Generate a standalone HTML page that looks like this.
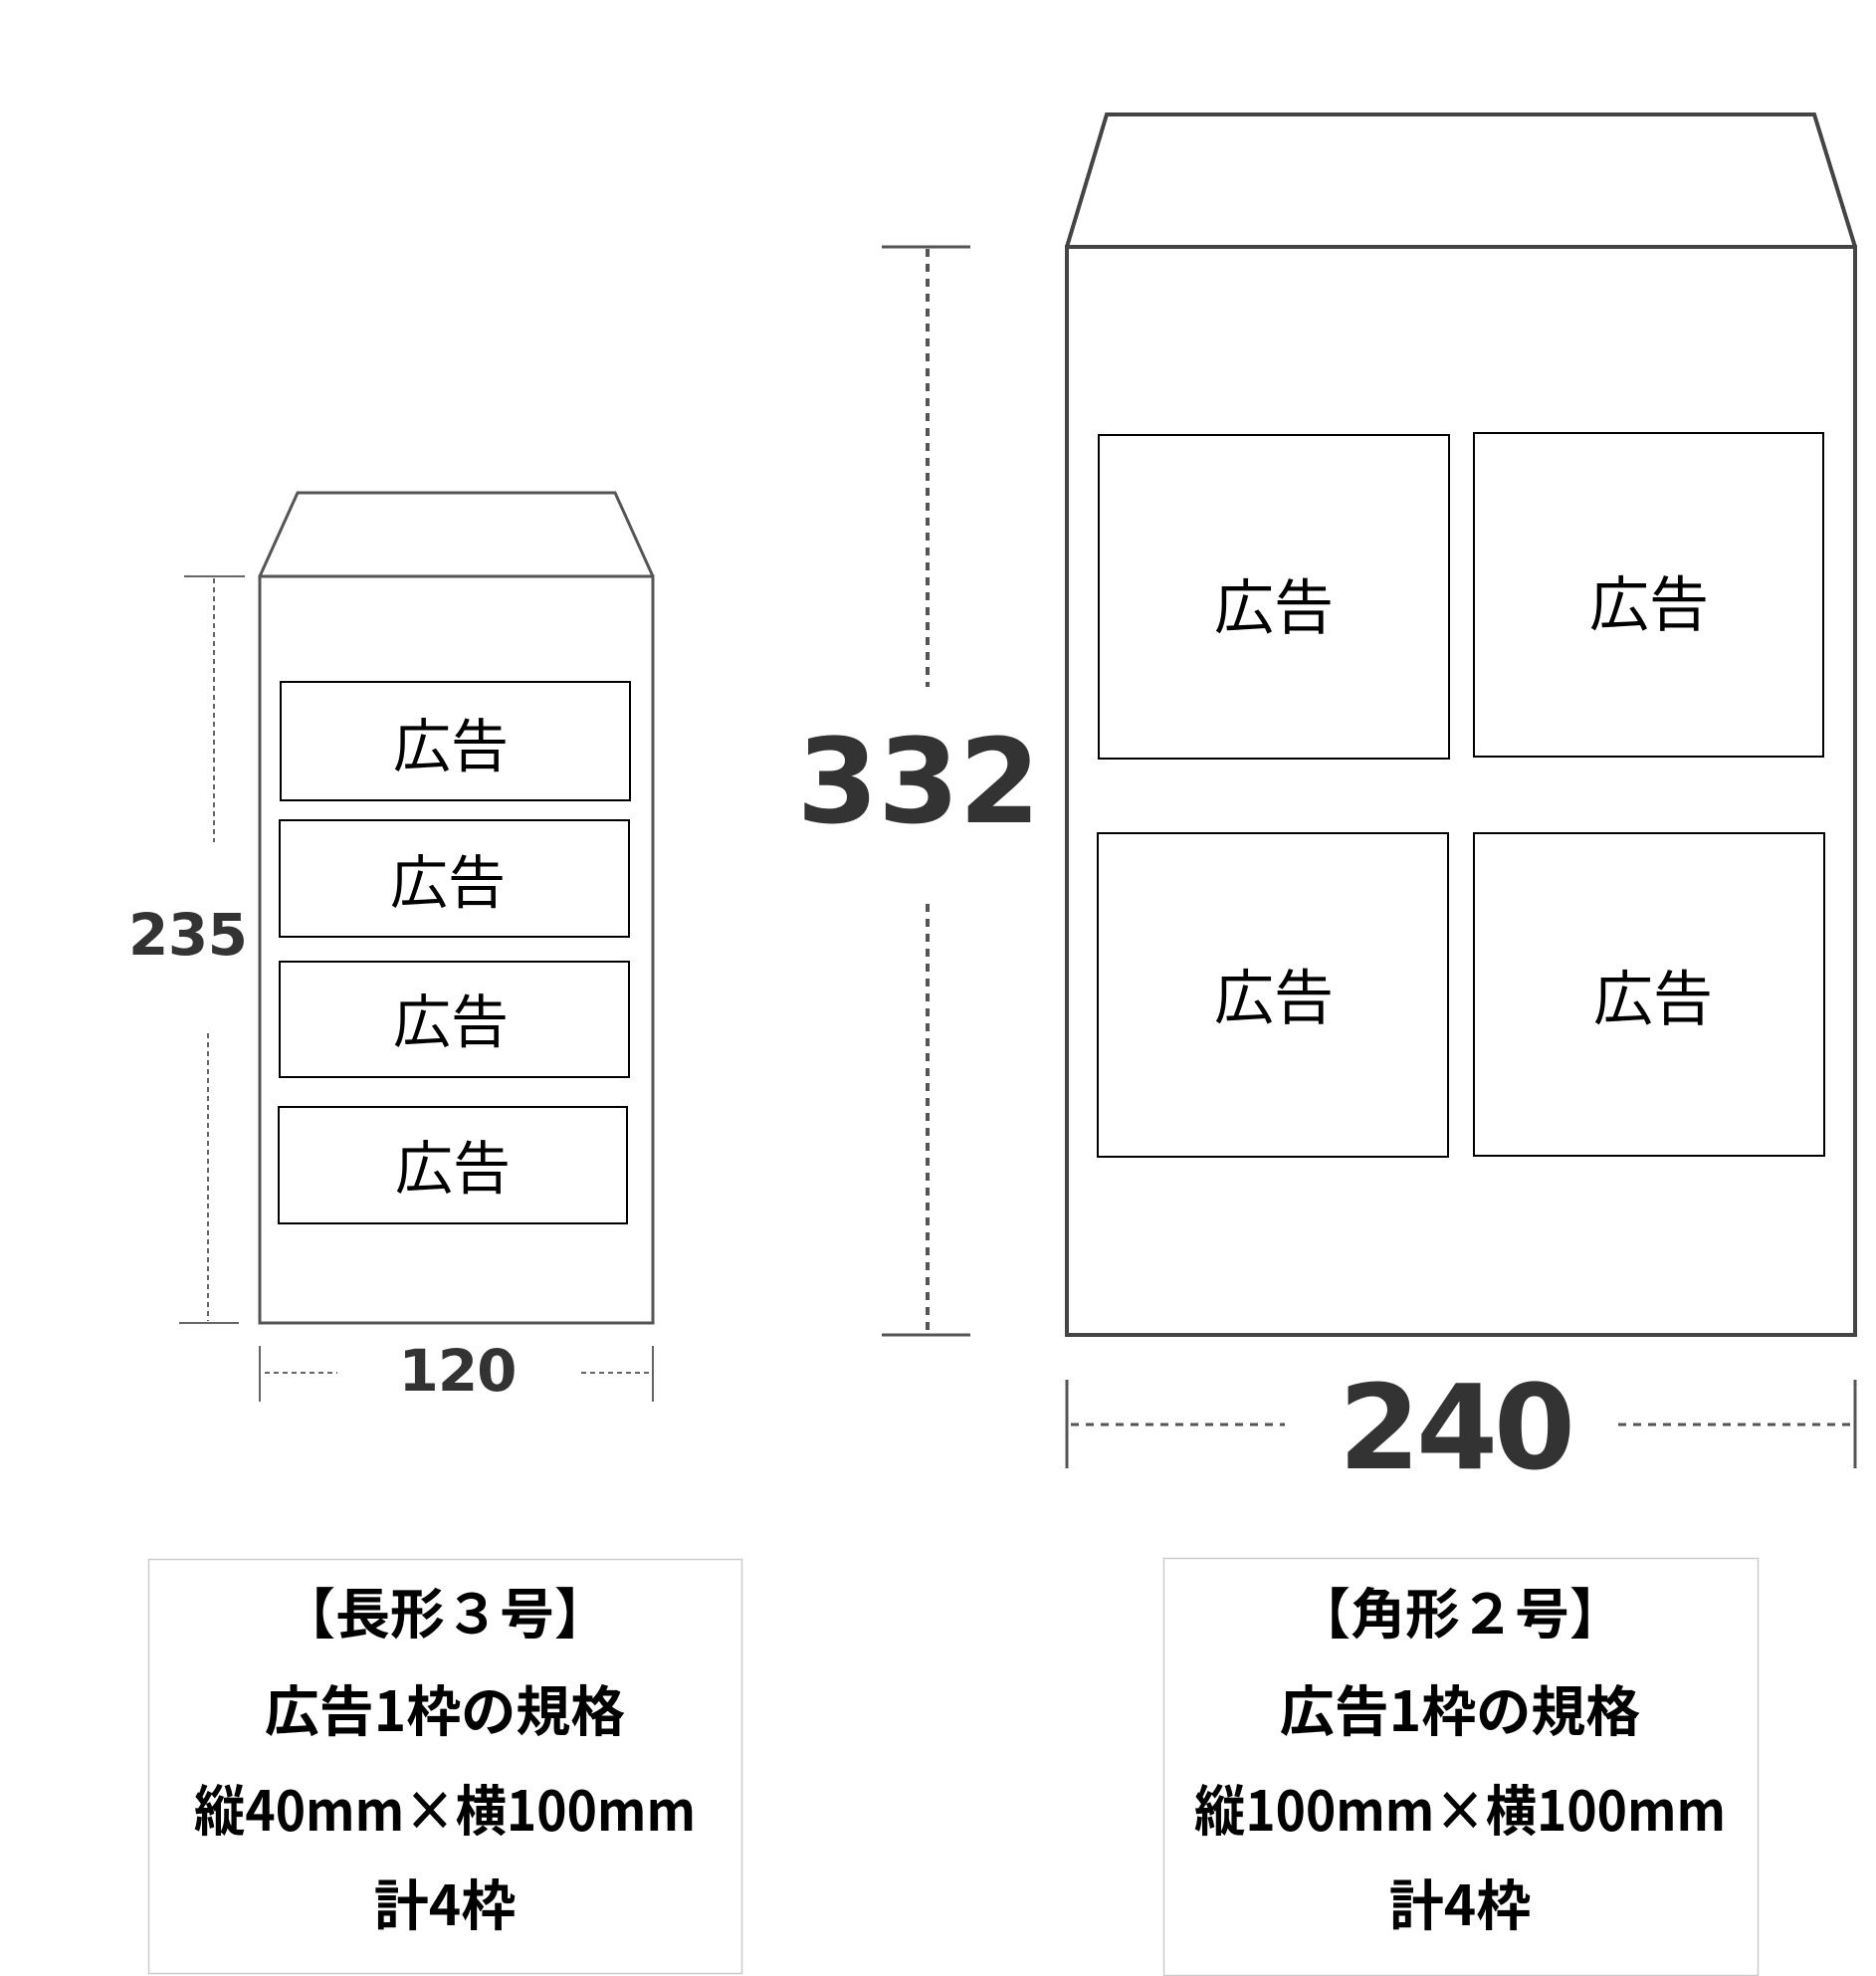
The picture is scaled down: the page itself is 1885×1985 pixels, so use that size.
<!DOCTYPE html>
<html><head><meta charset="utf-8"><style>
html,body{margin:0;padding:0;background:#fff;}
svg{display:block;}
.ad{font-family:"Noto Sans CJK JP",sans-serif;font-size:58px;fill:#000;}
.cap{font-family:"Noto Sans CJK JP",sans-serif;font-weight:bold;font-size:55px;fill:#000;}
.dim{font-family:"DejaVu Sans","Liberation Sans",sans-serif;font-weight:bold;fill:#333;}
</style></head><body>
<svg width="1885" height="1985" viewBox="0 0 1885 1985" xmlns="http://www.w3.org/2000/svg">
<g fill="none" stroke="#555" stroke-width="3">
<polyline points="261,579 299,495 618,495 656,579"/>
<rect x="261" y="579" width="395" height="750"/>
</g>
<g fill="none" stroke="#000" stroke-width="2">
<rect x="282" y="685" width="351" height="119"/>
<rect x="281" y="824" width="351" height="117"/>
<rect x="281" y="966" width="351" height="116"/>
<rect x="280" y="1112" width="350" height="117"/>
</g>
<g class="ad" text-anchor="middle" dominant-baseline="central">
<text x="453" y="745">広告</text>
<text x="450" y="882">広告</text>
<text x="453" y="1022">広告</text>
<text x="455" y="1169">広告</text>
</g>
<g stroke="#666" stroke-width="2" fill="none">
<line x1="185" y1="579" x2="246" y2="579"/>
<line x1="180" y1="1329" x2="240" y2="1329"/>
<line x1="215" y1="581" x2="215" y2="846" stroke-dasharray="5,4"/>
<line x1="209" y1="1038" x2="209" y2="1327" stroke-dasharray="5,4"/>
<line x1="261" y1="1352" x2="261" y2="1408"/>
<line x1="656" y1="1352" x2="656" y2="1408"/>
<line x1="266" y1="1379" x2="339" y2="1379" stroke-dasharray="5,4"/>
<line x1="584" y1="1379" x2="652" y2="1379" stroke-dasharray="5,4"/>
</g>
<text class="dim" x="189" y="939" font-size="58" text-anchor="middle" dominant-baseline="central" fill="#231815" textLength="120">235</text>
<text class="dim" x="460" y="1377" font-size="58" text-anchor="middle" dominant-baseline="central" fill="#231815" textLength="119">120</text>
<g fill="none" stroke="#444" stroke-width="4">
<polyline points="1072,248 1112,115 1823,115 1864,248"/>
<rect x="1072" y="248" width="792" height="1093"/>
</g>
<g fill="none" stroke="#000" stroke-width="2">
<rect x="1104" y="437" width="352" height="325"/>
<rect x="1481" y="435" width="351" height="325"/>
<rect x="1103" y="837" width="352" height="325"/>
<rect x="1481" y="837" width="352" height="324"/>
</g>
<g class="ad" text-anchor="middle" dominant-baseline="central">
<text x="1280" y="606" font-size="60">広告</text>
<text x="1657" y="603" font-size="60">広告</text>
<text x="1280" y="998" font-size="60">広告</text>
<text x="1661" y="999" font-size="60">広告</text>
</g>
<g stroke="#555" stroke-width="3" fill="none">
<line x1="886" y1="248" x2="975" y2="248"/>
<line x1="886" y1="1341" x2="975" y2="1341"/>
<line x1="932" y1="250" x2="932" y2="690" stroke-dasharray="8,7" stroke-width="4"/>
<line x1="932" y1="908" x2="932" y2="1339" stroke-dasharray="8,7" stroke-width="4"/>
<line x1="1072" y1="1386" x2="1072" y2="1475"/>
<line x1="1864" y1="1386" x2="1864" y2="1475"/>
<line x1="1076" y1="1431" x2="1291" y2="1431" stroke-dasharray="8,7"/>
<line x1="1626" y1="1431" x2="1861" y2="1431" stroke-dasharray="8,7"/>
</g>
<text class="dim" x="923" y="785" font-size="118" text-anchor="middle" dominant-baseline="central" textLength="245">332</text>
<text class="dim" x="1464" y="1434" font-size="118" text-anchor="middle" dominant-baseline="central" textLength="238">240</text>
<rect x="149.5" y="1566.5" width="596" height="416" fill="none" stroke="#ccc" stroke-width="1.5"/>
<rect x="1169.5" y="1565.5" width="597" height="419" fill="none" stroke="#ccc" stroke-width="1.5"/>
<g class="cap" text-anchor="middle" dominant-baseline="central">
<text x="447" y="1617">【長形３号】</text>
<text x="447" y="1715">広告1枠の規格</text>
<text x="447" y="1815" textLength="504" lengthAdjust="spacingAndGlyphs">縦40mm×横100mm</text>
<text x="447" y="1910">計4枠</text>
<text x="1467" y="1617">【角形２号】</text>
<text x="1467" y="1715">広告1枠の規格</text>
<text x="1467" y="1815" textLength="534" lengthAdjust="spacingAndGlyphs">縦100mm×横100mm</text>
<text x="1467" y="1910">計4枠</text>
</g>
</svg>
</body></html>
